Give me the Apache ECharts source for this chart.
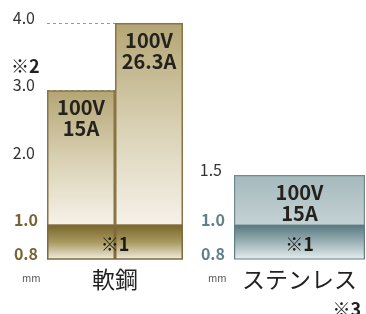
<!DOCTYPE html>
<html><head><meta charset="utf-8">
<script src="https://cdn.jsdelivr.net/npm/echarts@6/dist/echarts.min.js"></script>
<style>html,body{margin:0;padding:0;background:#fff}#c{width:366px;height:314px}</style>
</head><body><div id="c"></div>
<script>
// ---- data ----
const steelCategories = ['15A', '26.3A'];
const steelValues = [3.0, 4.0];
const steelLabels = ['100V\n15A', '100V\n26.3A'];
const stainlessCategories = ['15A'];
const stainlessValues = [1.5];
const stainlessLabels = ['100V\n15A'];
const bandValues = [1.0, 1.0];      // 0.8 – 1.0 mm band (※1)
const bandMin = 0.8;
const groupNames = ['軟鋼', 'ステンレス'];
const noteBand = '※1';
const noteSteel = '※2';
const noteStainless = '※3';
const unitText = 'mm';

// ---- styles ----
const FONT = '"Noto Sans CJK JP", "Noto Sans", sans-serif';
const brown = '#7a6233';
const slate = '#5f8088';
const lg = (stops) => new echarts.graphic.LinearGradient(0, 0, 0, 1, stops.map((c, i) => ({offset: i / (stops.length - 1), color: c})));

const steelFill = lg(['#b3a574', '#d9d0b3', '#f5f2e9']);
const steelBand = lg(['#78652c', '#a99a60', '#f3f0e5']);
const stainFill = lg(['#a5b9bd', '#c4d2d4']);
const stainBand = lg(['#587880', '#9db2b6', '#e8eff0']);

const upperLabel = {fontFamily: FONT, fontSize: 16, color: '#333', verticalAlign: 'bottom', lineHeight: 10, margin: 12};
const bandLabel = (col) => ({fontFamily: FONT, fontSize: 16, fontWeight: 'bold', color: col, verticalAlign: 'bottom', lineHeight: 11, margin: 9});
const barLabelStyle = {show: true, position: 'insideTop', distance: 7, fontFamily: FONT, fontSize: 20, fontWeight: 'bold', color: '#25211d', lineHeight: 21};
const noteLabel = {show: true, position: 'inside', formatter: noteBand, fontFamily: FONT, fontSize: 18, fontWeight: 'bold', color: '#1e1a16', offset: [0, 2]};

const hiddenCat = (grid, data) => ({type: 'category', gridIndex: grid, position: 'bottom', data: data, axisLine: {show: false}, axisTick: {show: false}, axisLabel: {show: false}, splitLine: {show: false}});
const nameCat = (grid, data) => ({type: 'category', gridIndex: grid, position: 'bottom', data: data, axisLine: {show: false}, axisTick: {show: false},
  axisLabel: {show: true, margin: 8, fontFamily: FONT, fontSize: 23, color: '#222', lineHeight: 24}, splitLine: {show: false}});
const titleText = (size, weight, color) => ({fontFamily: FONT, fontSize: size, fontWeight: weight, color: color});

const chart = echarts.init(document.getElementById('c'), null, {renderer: 'canvas'});
chart.setOption({
  animation: false,
  backgroundColor: '#fff',
  title: [
    {text: noteSteel, left: 11, top: 57, padding: 0, textStyle: titleText(18, 'bold', '#222')},
    {text: unitText, left: 22, top: 273, padding: 0, textStyle: titleText(10, 'normal', '#555')},
    {text: unitText, left: 208, top: 273, padding: 0, textStyle: titleText(10, 'normal', '#555')},
    {text: noteStainless, right: 5, top: 300, padding: 0, textStyle: titleText(18, 'bold', '#222')}
  ],
  grid: [
    {left: 47, top: 23, width: 136, height: 202},
    {left: 47, top: 225, width: 136, height: 34},
    {left: 234, top: 175, width: 131, height: 50},
    {left: 234, top: 225, width: 131, height: 34}
  ],
  xAxis: [
    hiddenCat(0, steelCategories),
    hiddenCat(1, steelCategories),
    nameCat(1, [groupNames[0]]),
    hiddenCat(2, stainlessCategories),
    nameCat(3, [groupNames[1]])
  ],
  yAxis: [
    {type: 'value', gridIndex: 0, min: 1, max: 4, interval: 1, axisLine: {show: false}, axisTick: {show: false},
      axisLabel: Object.assign({formatter: v => v === 1 ? '' : v.toFixed(1)}, upperLabel),
      splitLine: {show: true, lineStyle: {color: '#999', type: [3, 3], width: 1}}},
    {type: 'value', gridIndex: 1, min: bandMin, max: 1.0, interval: 0.2, axisLine: {show: false}, axisTick: {show: false},
      axisLabel: Object.assign({formatter: v => v.toFixed(1), showMinLabel: true, showMaxLabel: true}, bandLabel(brown)), splitLine: {show: false}},
    {type: 'value', gridIndex: 2, min: 1, max: 1.5, interval: 0.5, axisLine: {show: false}, axisTick: {show: false},
      axisLabel: Object.assign({formatter: v => v === 1 ? '' : v.toFixed(1)}, upperLabel), splitLine: {show: false}},
    {type: 'value', gridIndex: 3, min: bandMin, max: 1.0, interval: 0.2, axisLine: {show: false}, axisTick: {show: false},
      axisLabel: Object.assign({formatter: v => v.toFixed(1), showMinLabel: true, showMaxLabel: true}, bandLabel(slate)), splitLine: {show: false}}
  ],
  series: [
    {type: 'bar', xAxisIndex: 0, yAxisIndex: 0, data: steelValues, barCategoryGap: '0%', barGap: '0%',
      itemStyle: {color: steelFill, borderColor: '#8a7444', borderWidth: 1.5},
      label: Object.assign({formatter: p => steelLabels[p.dataIndex]}, barLabelStyle)},
    {type: 'bar', xAxisIndex: 1, yAxisIndex: 1, data: bandValues, barCategoryGap: '0%', barGap: '0%',
      itemStyle: {color: steelBand, borderColor: '#7f6a3c', borderWidth: 1.5}, z: 2},
    {type: 'bar', xAxisIndex: 2, yAxisIndex: 1, data: [bandValues[0]], barCategoryGap: '0%', z: 3,
      itemStyle: {color: 'rgba(0,0,0,0)', borderWidth: 0}, label: noteLabel},
    {type: 'bar', xAxisIndex: 3, yAxisIndex: 2, data: stainlessValues, barCategoryGap: '0%',
      itemStyle: {color: stainFill, borderColor: '#6e8b91', borderWidth: 1.2},
      label: Object.assign({formatter: p => stainlessLabels[p.dataIndex]}, barLabelStyle)},
    {type: 'bar', xAxisIndex: 4, yAxisIndex: 3, data: [bandValues[0]], barCategoryGap: '0%',
      itemStyle: {color: stainBand, borderColor: '#5f7e84', borderWidth: 1.2}, label: noteLabel}
  ]
});
</script>
</body></html>
